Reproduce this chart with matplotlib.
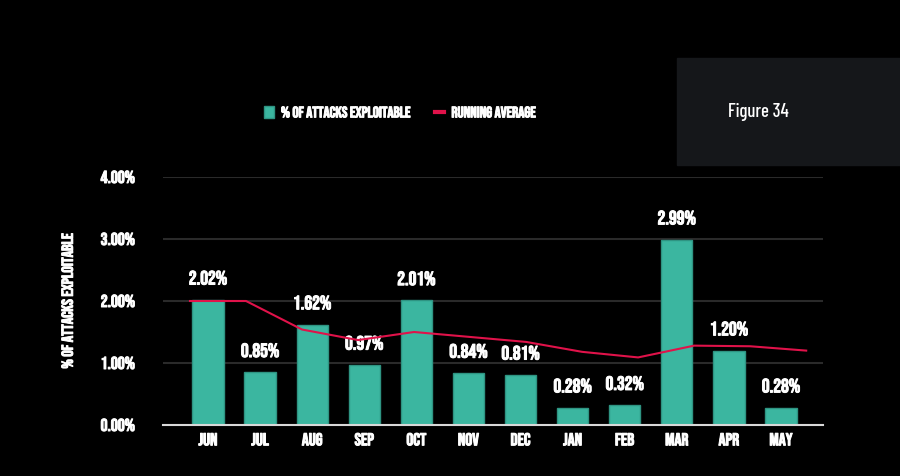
import numpy as np
import matplotlib.pyplot as plt
import matplotlib.patheffects as pe
from matplotlib import font_manager
from matplotlib.patches import Rectangle

months = ['JUN', 'JUL', 'AUG', 'SEP', 'OCT', 'NOV', 'DEC', 'JAN', 'FEB', 'MAR', 'APR', 'MAY']
exploitable = [2.02, 0.85, 1.62, 0.97, 2.01, 0.84, 0.81, 0.28, 0.32, 2.99, 1.20, 0.28]
running_avg = [2.00, 2.00, 1.54, 1.37, 1.50, 1.42, 1.34, 1.18, 1.09, 1.28, 1.27, 1.20]

teal = '#3bb6a0'
red = '#e0124a'


def pick(cands):
    have = set(f.name for f in font_manager.fontManager.ttflist)
    for name in cands:
        if name in have:
            return name
    return 'DejaVu Sans'


# narrow caps font for the chart, plain condensed one for the title box
cond = pick(['Bebas Neue', 'Oswald', 'Barlow Condensed', 'Roboto Condensed'])
cond2 = pick(['Barlow Condensed', 'Roboto Condensed', 'Oswald'])
fam = [cond, 'DejaVu Sans']
plt.rcParams['font.family'] = fam

# thin white outline to make the narrow font look heavier
heavy = [pe.withStroke(linewidth=0.7, foreground='white')]

fig = plt.figure(figsize=(9, 4.76), dpi=100, facecolor='black')

# figure box, top right
fig.patches.append(Rectangle((677 / 900, 1 - 165 / 476), 223 / 900, 107 / 476,
                             transform=fig.transFigure, color='#15171a', zorder=0))
fig.text(758 / 900, 1 - 112 / 476, 'Figure 34', color='white', fontsize=13.5,
         family=[cond2, 'DejaVu Sans'], fontweight='medium', ha='center', va='center')

ax = fig.add_axes([163 / 900, 1 - 425 / 476, 660 / 900, 248 / 476])
ax.set_facecolor('black')
x = np.arange(len(months))
ax.bar(x, exploitable, width=0.6, color=teal, edgecolor='#2e9482', linewidth=1,
       zorder=3, label='% OF ATTACKS EXPLOITABLE')
ax.set_xlim(-0.864, 11.806)
ax.set_ylim(0, 4)
ax.set_yticks([0, 1, 2, 3, 4])
ax.set_yticklabels(['%.2f%%' % v for v in [0, 1, 2, 3, 4]])
ax.set_xticks(x)
ax.set_xticklabels(months)
ax.tick_params(colors='white', length=0, labelsize=12.5, pad=6)
ax.tick_params(axis='y', pad=20)
for lab in ax.get_xticklabels() + ax.get_yticklabels():
    lab.set_fontweight('bold')
    lab.set_path_effects(heavy)
ax.grid(axis='y', color='#2a2a2a', linewidth=1.5, zorder=0)
for s in ['top', 'right', 'left']:
    ax.spines[s].set_visible(False)
ax.spines['bottom'].set_color('#d8d8d8')
ax.spines['bottom'].set_linewidth(1.5)
ax.spines['bottom'].set_zorder(5)
yl = ax.set_ylabel('% OF ATTACKS EXPLOITABLE', color='white', fontsize=11.5,
                   fontweight='bold', labelpad=20)
yl.set_path_effects(heavy)

for xi, v in zip(x, exploitable):
    ax.annotate('%.2f%%' % v, (xi, v), xytext=(0, 16), textcoords='offset points',
                ha='center', va='center', color='white', fontsize=14,
                fontweight='bold', zorder=6, path_effects=heavy)

# running average sits on its own x scale
ax2 = ax.twiny()
ax2.plot(x, running_avg, color=red, linewidth=1.5, zorder=4, label='RUNNING AVERAGE')
ax2.set_xlim(-0.482, 11.30)
ax2.set_ylim(0, 4)
ax2.axis('off')

h1, l1 = ax.get_legend_handles_labels()
h2, l2 = ax2.get_legend_handles_labels()
leg = fig.legend(h1 + h2, l1 + l2, loc='center', bbox_to_anchor=(400 / 900, 1 - 112 / 476),
                 ncol=2, frameon=False, handlelength=0.65, handleheight=0.75,
                 columnspacing=1.6, handletextpad=0.45,
                 prop={'family': fam, 'weight': 'bold', 'size': 11})
for t in leg.get_texts():
    t.set_color('white')
    t.set_path_effects(heavy)
for ln in leg.get_lines():
    ln.set_linewidth(3)

fig.savefig('out.png', dpi=100, facecolor='black')
